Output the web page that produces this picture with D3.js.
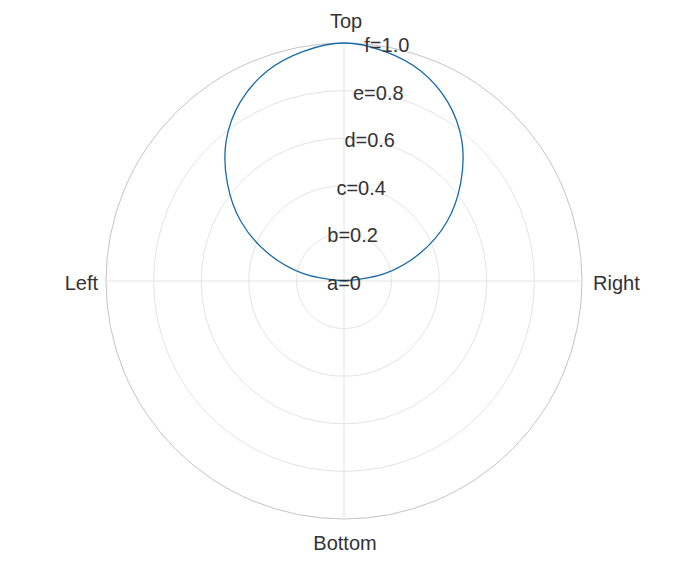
<!DOCTYPE html>
<html>
<head>
<meta charset="utf-8">
<script src="https://cdn.jsdelivr.net/npm/d3@7"></script>
<style>
  html, body { margin: 0; padding: 0; background: #fff; }
  svg { display: block; }
  text { font-family: "Liberation Sans", Arial, sans-serif; fill: #333; }
</style>
</head>
<body>
<svg id="chart" width="700" height="563"></svg>
<script>
// Angular positions (degrees, counter-clockwise from Right) and their tick labels
const angleTicks = [0, 90, 180, 270];
const angleLabels = ["Right", "Top", "Left", "Bottom"];

// Radial ticks and labels
const radialTicks = [0, 0.2, 0.4, 0.6, 0.8, 1.0];
const radialLabels = ["a=0", "b=0.2", "c=0.4", "d=0.6", "e=0.8", "f=1.0"];

// Series: theta (degrees) and r values
const thetaDeg = [0, 10, 20, 30, 40, 50, 60, 70, 80, 90, 100, 110, 120, 130, 140, 150, 160, 170, 180];
const rValues  = [0, 0.17, 0.34, 0.5, 0.64, 0.77, 0.87, 0.94, 0.98, 1.0, 0.98, 0.94, 0.87, 0.77, 0.64, 0.5, 0.34, 0.17, 0];

const svg = d3.select("#chart");
const cx = 344, cy = 281, R = 238;
const g = svg.append("g").attr("transform", `translate(${cx},${cy})`);

const r = d3.scaleLinear().domain([0, 1]).range([0, R]);
const toRad = d => d * Math.PI / 180;

// Grid rings
g.selectAll("circle.ring")
  .data(radialTicks.filter(t => t > 0))
  .join("circle")
  .attr("class", "ring")
  .attr("r", d => r(d))
  .attr("fill", "none")
  .attr("stroke", d => d === 1 ? "#c4c4c4" : "#e3e3e3")
  .attr("stroke-width", 1);

// Spokes
g.selectAll("line.spoke")
  .data(angleTicks)
  .join("line")
  .attr("class", "spoke")
  .attr("x1", 0).attr("y1", 0)
  .attr("x2", d => r(1) * Math.cos(toRad(d)))
  .attr("y2", d => -r(1) * Math.sin(toRad(d)))
  .attr("stroke", "#e3e3e3")
  .attr("stroke-width", 1);

// Series curve
const pts = thetaDeg.map((t, i) => [t, rValues[i]]);
const line = d3.lineRadial()
  .angle(d => Math.PI / 2 - toRad(d[0]))
  .radius(d => r(d[1]))
  .curve(d3.curveCatmullRom.alpha(0.5));
g.append("path")
  .attr("d", line(pts))
  .attr("fill", "none")
  .attr("stroke", "#1a6aa6")
  .attr("stroke-width", 1.3);

// Radial tick labels (shifted right as radius grows)
g.selectAll("text.rlab")
  .data(radialTicks)
  .join("text")
  .attr("class", "rlab")
  .attr("x", d => r(d) * 0.18)
  .attr("y", d => -r(d) + 2)
  .attr("text-anchor", "middle")
  .attr("dominant-baseline", "central")
  .attr("font-size", 20)
  .text((d, i) => radialLabels[i]);

// Angular labels
const pad = { 0: [11, 2, "start"], 90: [2, -22, "middle"], 180: [-8, 2, "end"], 270: [1, 24, "middle"] };
g.selectAll("text.alab")
  .data(angleTicks)
  .join("text")
  .attr("class", "alab")
  .attr("x", d => r(1) * Math.cos(toRad(d)) + pad[d][0])
  .attr("y", d => -r(1) * Math.sin(toRad(d)) + pad[d][1])
  .attr("text-anchor", d => pad[d][2])
  .attr("dominant-baseline", "central")
  .attr("font-size", 20)
  .text((d, i) => angleLabels[i]);
</script>
</body>
</html>
